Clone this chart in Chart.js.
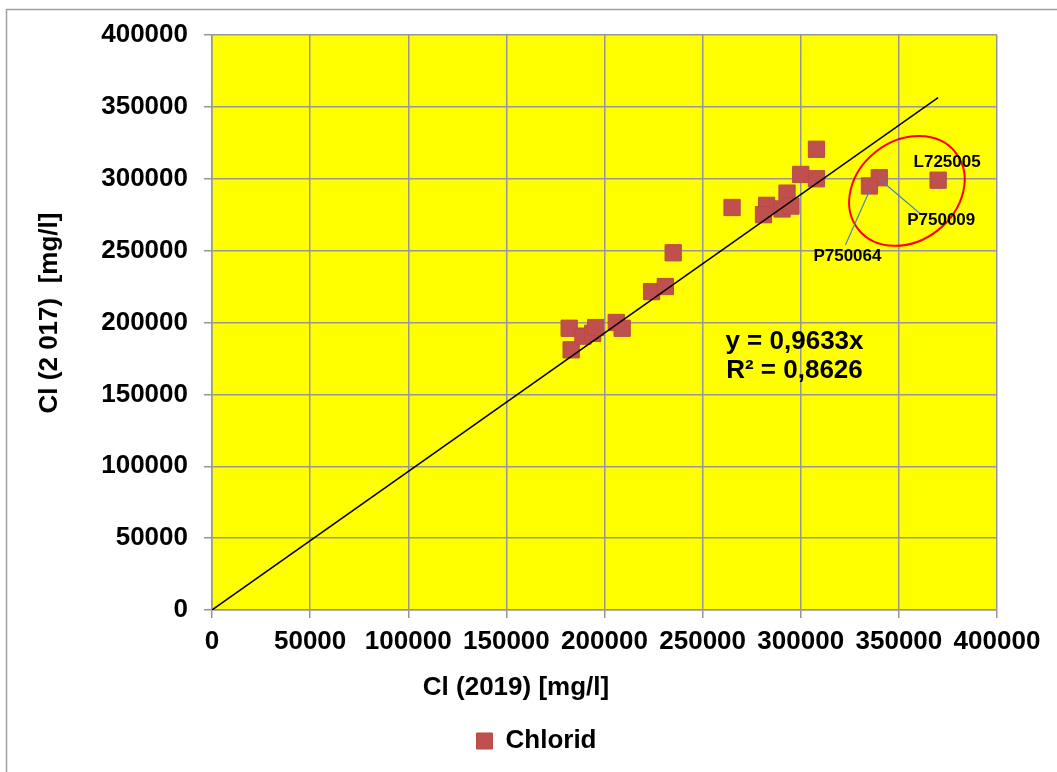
<!DOCTYPE html>
<html>
<head>
<meta charset="utf-8">
<script src="https://cdn.jsdelivr.net/npm/chart.js@4/dist/chart.umd.min.js"></script>
<style>
    html, body { margin: 0; padding: 0; background: #fff; }
    #wrap { width: 1057px; height: 772px; }
</style>
</head>
<body>
<div id="wrap"><canvas id="chart" width="1057" height="772"></canvas></div>
<script>
// ── Data ──────────────────────────────────────────────────────────────────

const SERIES_NAME = "Chlorid";

const CL_2019 = [308000, 300000, 308000, 293000, 265000, 282600, 281000, 290500, 295000,
                 235000, 224000, 231000, 182000, 183000, 189000, 194000, 195500, 206000,
                 209000, 340000, 335000, 370000];
const CL_2017 = [320500, 303000, 300000, 290000, 280000, 281500, 275000, 279000, 281000,
                 248500, 221500, 225000, 196000, 181000, 190500, 192500, 196500, 200000,
                 196000, 300700, 295000, 299000];

// trend line y = 0,9633x, drawn from 0 to the largest x value
const TREND_X = [0, 370000];
const TREND_Y = [0, 356421];

const EQ_LINES = ["y = 0,9633x", "R\u00b2 = 0,8626"];

// labelled points (index into CL_2019 / CL_2017)
const POINT_NAMES = ["L725005", "P750009", "P750064"];
const POINT_INDEX = [21, 19, 20];

const X_TICKS = [0, 50000, 100000, 150000, 200000, 250000, 300000, 350000, 400000];
const Y_TICKS = [0, 50000, 100000, 150000, 200000, 250000, 300000, 350000, 400000];

const X_TITLE = "Cl (2019) [mg/l]";
const Y_TITLE = "Cl (2 017)  [mg/l]";

// ── Styles ────────────────────────────────────────────────────────────────

const FONT = "'Liberation Sans', Arial, sans-serif";
const BIG = { family: FONT, size: 26, weight: "bold" };
const COLORS = {
    marker: "#c0504d",
    plot:   "#ffff00",
    grid:   "#969696",
    frame:  "#a0a0a0",
    ring:   "#ff0000",
    leader: "#4f81bd",
    text:   "#000"
};

// ── Plugins ───────────────────────────────────────────────────────────────

const backdrop = {
    id: "backdrop",
    beforeDraw(chart) {
        const { ctx, chartArea: a } = chart;
        ctx.save();
        ctx.fillStyle = "#fff";
        ctx.fillRect(0, 0, chart.width, chart.height);
        ctx.strokeStyle = COLORS.frame;
        ctx.lineWidth = 1.5;
        ctx.strokeRect(6.5, 9.5, chart.width + 10, chart.height + 10);
        ctx.fillStyle = COLORS.plot;
        ctx.fillRect(a.left, a.top, a.right - a.left, a.bottom - a.top);
        ctx.restore();
    }
};

// legend sits a bit right of the plot centre in the original
const legendShift = {
    id: "legendShift",
    afterLayout(chart) {
        chart.legend.left += 38;
        chart.legend.right += 38;
    }
};

// axis titles, ellipse around the outliers, point names and the trend equation
const notes = {
    id: "notes",
    afterDraw(chart) {
        const { ctx, scales: { x, y } } = chart;
        const px = i => x.getPixelForValue(CL_2019[i]);
        const py = i => y.getPixelForValue(CL_2017[i]);
        ctx.save();

        // axis titles
        ctx.fillStyle = COLORS.text;
        ctx.font = `bold 26px ${FONT}`;
        ctx.textAlign = "center";
        ctx.textBaseline = "middle";
        ctx.fillText(X_TITLE, 516, 688);
        ctx.save();
        ctx.translate(50, 313);
        ctx.rotate(-Math.PI / 2);
        ctx.fillText(Y_TITLE, 0, 0);
        ctx.restore();

        // ellipse
        ctx.strokeStyle = COLORS.ring;
        ctx.lineWidth = 2;
        ctx.beginPath();
        ctx.ellipse(x.getPixelForValue(354100), y.getPixelForValue(291500), 62, 50, -38 * Math.PI / 180, 0, Math.PI * 2);
        ctx.stroke();

        // leader lines
        const offsets = [[9, -18], [62, 43], [-22, 70]];
        const leaders = [null, [[1, 2], [41, 36]], [[0, 5], [-24, 59]]];
        ctx.strokeStyle = COLORS.leader;
        ctx.lineWidth = 1.2;
        leaders.forEach((l, k) => {
            if (!l) return;
            const i = POINT_INDEX[k];
            ctx.beginPath();
            ctx.moveTo(px(i) + l[0][0], py(i) + l[0][1]);
            ctx.lineTo(px(i) + l[1][0], py(i) + l[1][1]);
            ctx.stroke();
        });

        // names
        ctx.font = `bold 17px ${FONT}`;
        POINT_NAMES.forEach((name, k) => {
            const i = POINT_INDEX[k];
            ctx.fillText(name, px(i) + offsets[k][0], py(i) + offsets[k][1]);
        });

        // equation
        ctx.font = `bold 26px ${FONT}`;
        const ex = x.getPixelForValue(296800);
        const ey = y.getPixelForValue(186600);
        EQ_LINES.forEach((t, k) => ctx.fillText(t, ex, ey + k * 29));

        ctx.restore();
    }
};

// ── Chart ─────────────────────────────────────────────────────────────────

const gridOpts = {
    color: COLORS.grid,
    lineWidth: 1.5,
    tickLength: 8,
    drawTicks: true
};

new Chart(document.getElementById("chart"), {
    data: {
        datasets: [
            {
                type: "line",
                label: "trend",
                data: TREND_X.map((v, i) => ({ x: v, y: TREND_Y[i] })),
                borderColor: "#000",
                borderWidth: 1.5,
                pointRadius: 0,
                fill: false,
                order: 0
            },
            {
                type: "scatter",
                label: SERIES_NAME,
                data: CL_2019.map((v, i) => ({ x: v, y: CL_2017[i] })),
                pointStyle: "rect",
                pointRadius: 11.5,
                pointHoverRadius: 11.5,
                backgroundColor: COLORS.marker,
                borderColor: "#b84a47",
                borderWidth: 1,
                order: 1
            }
        ]
    },
    options: {
        responsive: false,
        animation: false,
        devicePixelRatio: 1,
        layout: { padding: { left: 0, top: 35, right: 60, bottom: 8 } },
        plugins: {
            tooltip: { enabled: false },
            legend: {
                position: "bottom",
                labels: {
                    filter: item => item.text === SERIES_NAME,
                    boxWidth: 16,
                    boxHeight: 16,
                    padding: 10,
                    color: COLORS.text,
                    font: BIG
                }
            }
        },
        scales: {
            x: {
                type: "linear",
                min: 0,
                max: 400000,
                afterBuildTicks: s => { s.ticks = X_TICKS.map(v => ({ value: v })); },
                afterFit: s => { s.height = 108; },
                grid: gridOpts,
                border: { color: COLORS.grid, width: 1.5 },
                ticks: {
                    padding: 8,
                    color: COLORS.text,
                    maxRotation: 0,
                    font: BIG,
                    callback: v => String(v)
                }
            },
            y: {
                type: "linear",
                min: 0,
                max: 400000,
                afterBuildTicks: s => { s.ticks = Y_TICKS.map(v => ({ value: v })); },
                afterFit: s => { s.width = 212; },
                grid: gridOpts,
                border: { color: COLORS.grid, width: 1.5 },
                ticks: {
                    padding: 16,
                    color: COLORS.text,
                    font: BIG,
                    callback: v => String(v)
                }
            }
        }
    },
    plugins: [backdrop, legendShift, notes]
});
</script>
</body>
</html>
